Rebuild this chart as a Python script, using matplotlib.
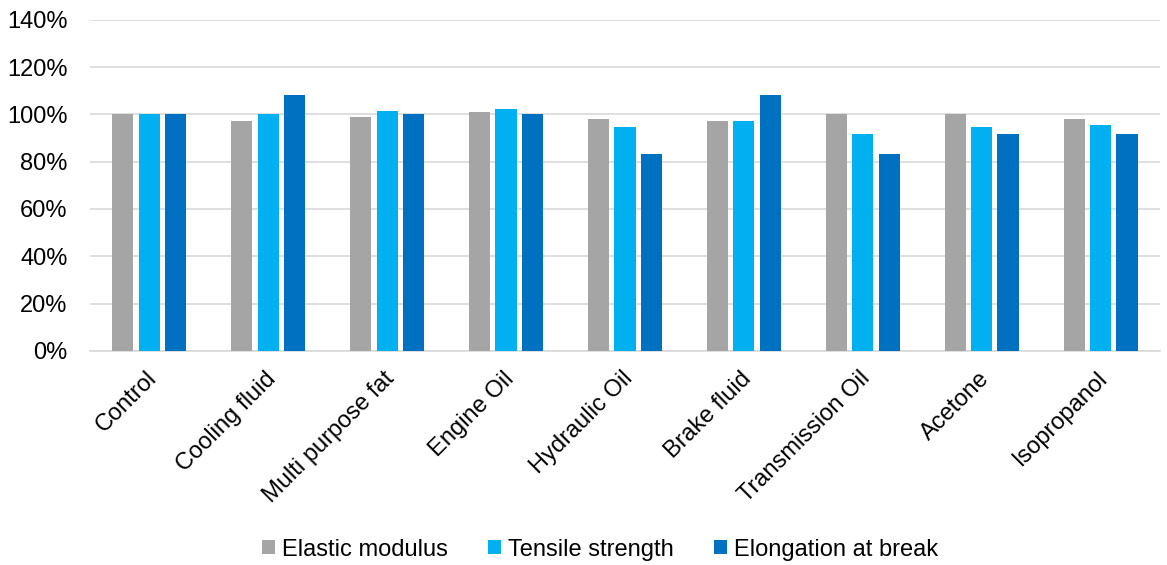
import numpy as np
import matplotlib.pyplot as plt
from matplotlib.ticker import PercentFormatter

plt.rcParams['font.family'] = ['Liberation Sans', 'DejaVu Sans']

# Datos
categorias = ['Control', 'Cooling fluid', 'Multi purpose fat', 'Engine Oil',
              'Hydraulic Oil', 'Brake fluid', 'Transmission Oil', 'Acetone',
              'Isopropanol']
modulo = [100, 97, 99, 101, 98, 97, 100, 100, 98]
traccion = [100, 100.3, 101.5, 102.2, 94.5, 97.3, 91.8, 94.8, 95.5]
elongacion = [100, 108, 100, 100, 83.2, 108, 83.2, 91.5, 91.5]

series = ['Elastic modulus', 'Tensile strength', 'Elongation at break']
colores = ['#A5A5A5', '#00B0F0', '#0070C0']

fig = plt.figure(figsize=(11.67, 5.65), dpi=100)
ax = fig.add_axes([0.077, 0.379, 0.917, 0.586])

x = np.arange(len(categorias))
ancho = 0.178
paso = 0.222
for i, (datos, nombre, color) in enumerate(zip([modulo, traccion, elongacion], series, colores)):
    ax.bar(x + (i - 1) * paso, datos, ancho, color=color, label=nombre, zorder=3)

ax.set_xlim(-0.5, len(categorias) - 0.5)
ax.set_ylim(0, 140)
ax.set_yticks(np.arange(0, 141, 20))
ax.yaxis.set_major_formatter(PercentFormatter(decimals=0))
ax.grid(axis='y', color='#D9D9D9', linewidth=1.2, zorder=0)
for lado in ['top', 'right', 'left']:
    ax.spines[lado].set_visible(False)
ax.spines['bottom'].set_color('#D9D9D9')
ax.spines['bottom'].set_linewidth(1.2)
ax.tick_params(axis='both', length=0, labelsize=17, colors='#000000')
ax.tick_params(axis='y', pad=16)
ax.tick_params(axis='x', pad=12)
ax.set_xticks(x - 0.03)
ax.set_xticklabels(categorias, rotation=45, ha='right', rotation_mode='anchor')

fig.legend(loc='lower center', bbox_to_anchor=(0.514, -0.03), ncol=3, frameon=False,
           fontsize=17, handlelength=0.55, handleheight=0.55, handletextpad=0.3,
           columnspacing=1.7)

plt.savefig('out.png', dpi=100)
